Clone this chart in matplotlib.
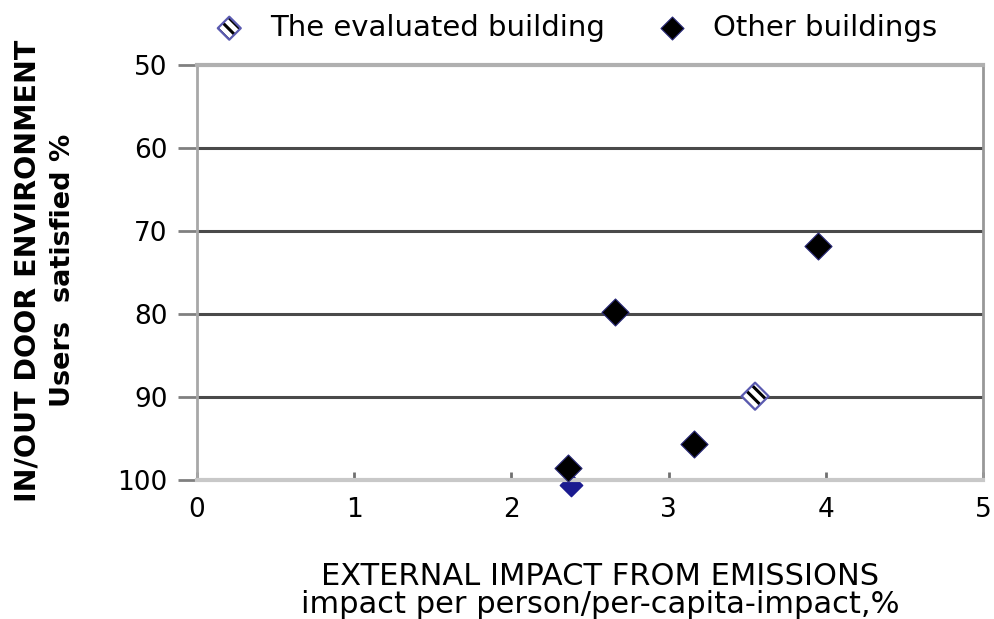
import matplotlib
matplotlib.use('Agg')
import matplotlib.pyplot as plt

# other buildings (x = impact %, y = users satisfied %)
other_x = [2.66, 3.95, 3.16, 2.36]
other_y = [79.7, 71.8, 95.7, 98.6]
# the evaluated building
eval_x = [3.55]
eval_y = [89.9]
# partly hidden point on the 100 line
hidden_x = [2.38]
hidden_y = [100.6]

xticks = [0, 1, 2, 3, 4, 5]
yticks = [50, 60, 70, 80, 90, 100]

plt.rcParams['font.family'] = ['DejaVu Sans']
plt.rcParams['hatch.linewidth'] = 2.2

fig = plt.figure(figsize=(9.94, 6.19), dpi=100)
ax = fig.add_axes([0.198, 0.2245, 0.791, 0.6705])

for v in yticks[1:-1]:
	ax.axhline(v, color='#4a4a4a', lw=2.2, zorder=1)

ax.scatter(hidden_x, hidden_y, marker='D', s=130, color='#1a1a90', zorder=2,
	clip_on=False)
other = ax.scatter(other_x, other_y, marker='D', s=190, facecolor='black',
	edgecolor='#2a2a7a', lw=0.8, zorder=3, clip_on=False)
# hatched fill (hatch takes the edge colour), then a blue outline on top
hatched = ax.scatter(eval_x, eval_y, marker='D', s=190, facecolor='white',
	edgecolor='black', lw=0, hatch='\\\\\\', zorder=3)
outline = ax.scatter(eval_x, eval_y, marker='D', s=190, facecolor='none',
	edgecolor='#5a5ab0', lw=1.6, zorder=4)

ax.set_xlim(0, 5)
ax.set_ylim(100, 50)
ax.set_xticks(xticks)
ax.set_yticks(yticks)
ax.tick_params(axis='y', direction='out', length=14, width=2, color='#808080',
	labelsize=19, pad=7)
ax.tick_params(axis='x', direction='in', length=6, width=2, color='#707070',
	labelsize=19, pad=12)

ax.spines['left'].set_color('#a8a8a8')
ax.spines['left'].set_linewidth(2)
ax.spines['bottom'].set_color('#c8c8c8')
ax.spines['bottom'].set_linewidth(3)
ax.spines['top'].set_color('#b0b0b0')
ax.spines['top'].set_linewidth(3)
ax.spines['right'].set_color('#989898')
ax.spines['right'].set_linewidth(2)

fig.text(0.028, 0.562, 'IN/OUT DOOR ENVIRONMENT', rotation=90, ha='center',
	va='center', fontsize=20.5, fontweight='bold')
fig.text(0.063, 0.564, 'Users  satisfied %', rotation=90, ha='center',
	va='center', fontsize=19.5, fontweight='bold')
fig.text(0.604, 0.046, 'EXTERNAL IMPACT FROM EMISSIONS\nimpact per person/per-capita-impact,%',
	ha='center', va='center', fontsize=22, linespacing=0.97)

fig.legend([(hatched, outline), other], ['The evaluated building', 'Other buildings'],
	loc='center', bbox_to_anchor=(0.572, 0.955), ncol=2, frameon=False, fontsize=21,
	handletextpad=0.4, columnspacing=1.3, markerscale=0.85)

fig.savefig('out.png', dpi=100)
